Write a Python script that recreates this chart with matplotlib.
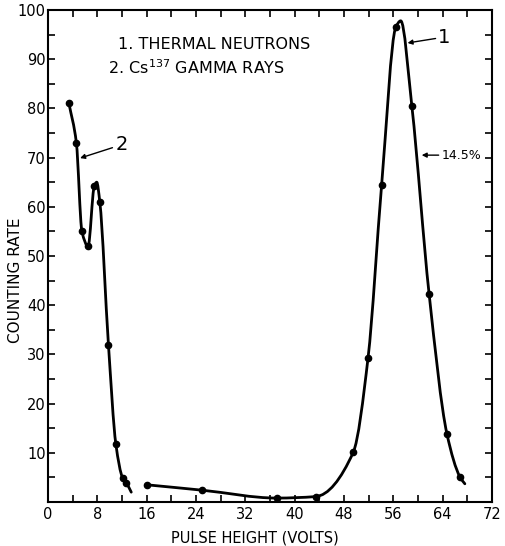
import matplotlib
matplotlib.use("Agg")
import matplotlib.pyplot as plt
import numpy as np
from matplotlib.path import Path
from matplotlib.patches import PathPatch
from matplotlib.ticker import MultipleLocator

plt.rcParams['font.family'] = ['DejaVu Sans']
plt.rcParams['mathtext.default'] = 'regular'

# Curve 1: thermal neutrons (mark=1 where a dot is drawn)
n_x = [16.0, 25.0, 37.1, 43.4, 49.5, 51.9, 54.1, 56.4, 57.2, 59.0, 61.8, 64.7, 66.8, 67.6]
n_y = [3.5, 2.4, 0.8, 1.1, 10.1, 29.3, 64.4, 96.5, 97.8, 80.5, 42.3, 13.8, 5.1, 3.7]
n_mark = [1, 1, 1, 1, 1, 1, 1, 1, 0, 1, 1, 1, 1, 0]

# Curve 2: Cs137 gamma rays
g_x = [3.4, 4.6, 5.5, 6.5, 7.5, 7.9, 8.4, 9.8, 11.0, 12.1, 12.7, 13.5]
g_y = [81.0, 73.0, 55.0, 52.0, 64.2, 65.0, 61.0, 32.0, 11.8, 4.9, 3.9, 2.0]
g_mark = [1, 1, 1, 1, 1, 0, 1, 1, 1, 1, 1, 0]

x_ticks = [0, 8, 16, 24, 32, 40, 48, 56, 64, 72]
y_ticks = [10, 20, 30, 40, 50, 60, 70, 80, 90, 100]


def pchip_slopes(x, y):
    x = np.asarray(x, float); y = np.asarray(y, float)
    h = np.diff(x); d = np.diff(y) / h
    n = len(x); m = np.zeros(n)
    for k in range(1, n - 1):
        if d[k - 1] * d[k] <= 0:
            m[k] = 0
        else:
            w1 = 2 * h[k] + h[k - 1]; w2 = h[k] + 2 * h[k - 1]
            m[k] = (w1 + w2) / (w1 / d[k - 1] + w2 / d[k])
    m[0] = d[0]; m[-1] = d[-1]
    return m


def smooth_path(x, y):
    m = pchip_slopes(x, y)
    verts = [(x[0], y[0])]; codes = [Path.MOVETO]
    for k in range(len(x) - 1):
        h = x[k + 1] - x[k]
        verts += [(x[k] + h / 3, y[k] + m[k] * h / 3),
                  (x[k + 1] - h / 3, y[k + 1] - m[k + 1] * h / 3),
                  (x[k + 1], y[k + 1])]
        codes += [Path.CURVE4] * 3
    return Path(verts, codes)


fig = plt.figure(figsize=(5.05, 5.46), dpi=100)
ax = fig.add_axes([48 / 505, 1 - 502 / 546, 444 / 505, 492 / 546])

for xs, ys, mk in [(n_x, n_y, n_mark), (g_x, g_y, g_mark)]:
    ax.add_patch(PathPatch(smooth_path(xs, ys), fill=False, lw=2.0, color='black',
                           capstyle='round', joinstyle='round'))
    mx = [a for a, f in zip(xs, mk) if f]
    my = [b for b, f in zip(ys, mk) if f]
    ax.plot(mx, my, 'o', color='black', ms=4.5)

ax.set_xlim(0, 72)
ax.set_ylim(0, 100)
ax.set_xticks(x_ticks)
ax.set_yticks(y_ticks)
ax.xaxis.set_minor_locator(MultipleLocator(4))
ax.yaxis.set_minor_locator(MultipleLocator(5))
ax.tick_params(which='both', direction='in', top=True, right=True, length=5, width=1.2,
               labelsize=10.5)
ax.tick_params(axis='x', pad=3.5)
ax.tick_params(axis='y', pad=1.5)
for s in ax.spines.values():
    s.set_linewidth(1.5)

ax.set_xlabel('PULSE HEIGHT (VOLTS)', fontsize=10.5)
ax.set_ylabel('COUNTING RATE', fontsize=11)
ax.xaxis.set_label_coords(0.466, -0.073)
ax.yaxis.set_label_coords(-0.074, 0.451)
ax.xaxis.label.set_va('center')
ax.yaxis.label.set_va('center')

ax.text(11.3, 92.9, '1. THERMAL NEUTRONS', fontsize=11.5, va='center', ha='left')
ax.text(9.7, 88.2, '2. Cs$^{137}$ GAMMA RAYS', fontsize=11.5, va='center', ha='left')

ap = dict(arrowstyle='-|>', color='black', lw=1.0, mutation_scale=7, shrinkA=0, shrinkB=0)
ax.annotate('2', xy=(5.2, 69.9), xytext=(10.9, 72.6), fontsize=14, va='center', ha='left',
            arrowprops=ap)
ax.annotate('1', xy=(58.3, 93.3), xytext=(63.3, 94.5), fontsize=14, va='center', ha='left',
            arrowprops=ap)
ax.annotate('14.5%', xy=(60.6, 70.5), xytext=(63.8, 70.5), fontsize=9, va='center', ha='left',
            arrowprops=ap)

fig.savefig('out.png', dpi=100)
